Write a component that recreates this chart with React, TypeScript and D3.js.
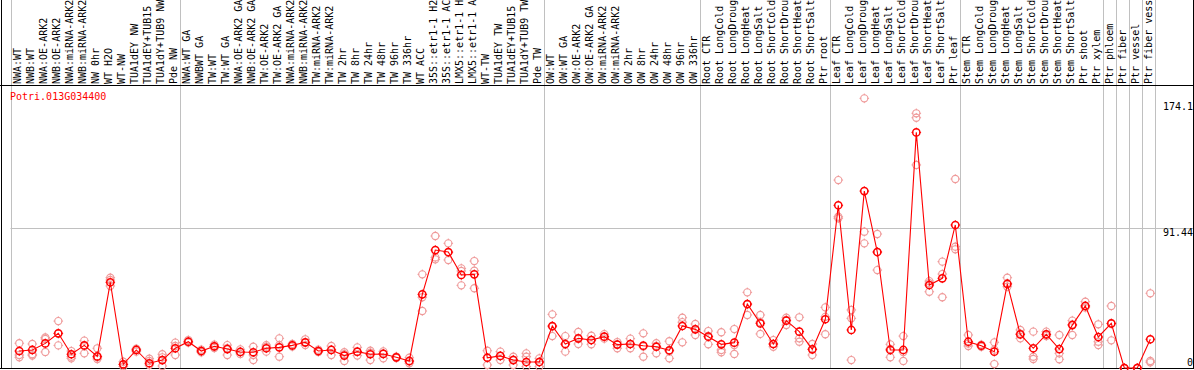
import React from "react";
import * as d3 from "d3";

const title = "Potri.013G034400";

const categories: string[] = [
  "NWA:WT", "NWB:WT", "NWA:OE-ARK2", "NWB:OE-ARK2", "NWA:miRNA-ARK2", "NWB:miRNA-ARK2", "NW 0hr", "WT H2O", "WT-NW", "TUA1dEY NW", "TUA1dEY+TUB15", "TUA1dY+TUB9 NW", "Pde NW",
  "NWA:WT GA", "NWBWT GA", "TW:WT", "TW:WT GA", "NWA:OE-ARK2 GA", "NWB:OE-ARK2 GA", "TW:OE-ARK2", "TW:OE-ARK2 GA", "NWA:miRNA-ARK2", "NWB:miRNA-ARK2", "TW:miRNA-ARK2", "TW:miRNA-ARK2", "TW 2hr", "TW 8hr", "TW 24hr", "TW 48hr", "TW 96hr", "TW 336hr", "WT ACC", "35S::etr1-1 H2", "35S::etr1-1 AC", "LMX5::etr1-1 H", "LMX5::etr1-1 A", "WT-TW", "TUA1dEY TW", "TUA1dEY+TUB15", "TUA1dY+TUB9 TW", "Pde TW",
  "OW:WT", "OW:WT GA", "OW:OE-ARK2", "OW:OE-ARK2 GA", "OW:miRNA-ARK2", "OW:miRNA-ARK2", "OW 2hr", "OW 8hr", "OW 24hr", "OW 48hr", "OW 96hr", "OW 336hr",
  "Root CTR", "Root LongCold", "Root LongDroug", "Root LongHeat", "Root LongSalt", "Root ShortCold", "Root ShortDrou", "Root ShortHeat", "Root ShortSalt", "Ptr root",
  "Leaf CTR", "Leaf LongCold", "Leaf LongDroug", "Leaf LongHeat", "Leaf LongSalt", "Leaf ShortCold", "Leaf ShortDrou", "Leaf ShortHeat", "Leaf ShortSalt", "Ptr leaf",
  "Stem CTR", "Stem LongCold", "Stem LongDroug", "Stem LongHeat", "Stem LongSalt", "Stem ShortCold", "Stem ShortDrou", "Stem ShortHeat", "Stem ShortSalt", "Ptr shoot", "Ptr xylem",
  "Ptr phloem", "Ptr fiber", "Ptr vessel", "Ptr fiber vess",
];

const groupSizes: number[] = [13, 28, 12, 10, 10, 11, 1, 1, 1, 1];

const means: number[] = [
  11.1, 11.8, 16.1, 22.7, 9.0, 14.8, 7.6, 56.1, 2.4, 11.8, 3.1, 5.2, 12.9,
  17.2, 11.1, 14.2, 12.4, 10.5, 10.3, 12.9, 13.5, 14.8, 16.8, 11.1, 11.8, 8.1, 10.7, 9.0, 9.2, 7.0, 4.6, 48.2, 77.2, 75.9, 60.9, 61.3, 6.7, 7.9, 5.2, 3.9, 3.9,
  27.5, 15.7, 19.4, 18.3, 20.5, 15.3, 15.7, 14.6, 13.9, 11.6, 27.5, 25.3,
  20.5, 15.5, 16.6, 41.9, 29.2, 15.7, 31.0, 23.8, 12.2, 31.9,
  106.5, 24.9, 115.8, 75.9, 11.8, 11.8, 154.2, 54.3, 58.7, 93.6,
  17.2, 14.6, 10.7, 55.0, 22.0, 12.9, 22.0, 12.4, 28.1, 40.6, 20.3,
  29.2, 0, 0, 18.8,
];

const rep1: number[] = [
  16.2, 15.7, 20.0, 30.7, 11.1, 17.9, 12.9, 59.1, 4.1, 12.6, 6.1, 9.0, 16.6,
  18.3, 12.0, 15.3, 15.0, 12.2, 13.9, 15.0, 15.0, 15.7, 18.8, 12.0, 14.4, 10.3, 13.5, 11.3, 10.9, 7.5, 6.7, 61.3, 86.4, 81.6, 65.2, 70.0, 11.3, 10.7, 7.4, 9.6, 6.3,
  35.1, 20.9, 23.6, 21.1, 22.2, 17.0, 19.2, 22.7, 16.2, 17.5, 32.9, 28.8,
  24.2, 23.4, 25.5, 49.5, 34.7, 18.3, 32.9, 33.2, 15.7, 39.7,
  123.0, 38.0, 176.5, 87.7, 15.5, 20.9, 166.7, 56.9, 69.6, 123.7,
  21.6, 15.3, 16.8, 59.1, 24.9, 23.8, 23.8, 21.6, 31.0, 43.4, 28.6,
  40.6, 0, 0, 48.9,
];

const rep2: number[] = [
  8.5, 9.0, 19.0, 14.8, 7.4, 9.6, 5.9, 53.7, 0.9, 10.7, 2.0, 1.3, 8.5,
  16.6, 10.2, 13.1, 8.5, 9.2, 8.5, 10.7, 19.4, 14.0, 15.0, 10.5, 8.5, 4.6, 8.1, 5.2, 6.3, 6.5, 3.1, 37.3, 72.4, 70.7, 63.5, 63.7, 2.0, 5.2, 2.0, 7.4, 0.9,
  20.9, 10.7, 15.7, 15.5, 19.2, 12.9, 12.9, 7.4, 9.6, 6.3, 16.8, 21.6,
  15.5, 11.8, 9.2, 34.7, 22.3, 13.9, 28.1, 19.4, 8.5, 22.1,
  99.0, 32.5, 89.2, 64.1, 7.0, 4.6, 163.8, 49.9, 61.5, 79.4,
  14.4, 13.9, 2.6, 53.2, 19.4, 7.4, 20.9, 9.6, 21.6, 39.5, 17.2,
  18.1, 0, 0, 4.6,
];

const rep3: number[] = [
  7.0, 8.1, 10.5, 22.5, 6.3, 14.4, 7.0, 57.6, 2.2, 11.8, 4.6, 7.0, 14.4,
  17.0, 11.1, 14.0, 13.0, 10.5, 5.2, 13.9, 7.4, 14.8, 16.5, 11.0, 12.0, 9.0, 10.5, 10.0, 9.5, 7.0, 4.2, 46.3, 71.1, 75.5, 54.1, 52.2, 6.8, 7.9, 5.5, 0.9, 4.0,
  27.0, 15.5, 19.0, 18.3, 20.5, 15.5, 15.7, 14.0, 14.5, 11.0, 30.0, 25.5,
  21.0, 10.3, 15.0, 41.5, 30.0, 15.7, 31.5, 17.2, 12.3, 33.5,
  98.0, 5.2, 81.6, 76.0, 12.5, 10.5, 132.9, 55.5, 46.3, 77.7,
  16.0, 14.6, 12.0, 55.5, 22.5, 5.9, 22.0, 5.7, 28.5, 40.6, 15.0,
  29.0, 0, 0, 3.7,
];

const yTicks: number[] = [0, 91.44, 174.1];
const gridTicks: number[] = [91.44];

const W = 1194;
const H = 370;
const plotLeft = 10.5;
const colW = 13;
const headerY = 85.5;
const bottomY = 368.5;
const rightX = 1193.5;
const FONT = "'DejaVu Sans Mono', 'Liberation Mono', monospace";

function Marker({ x, y, color, sw }: { x: number; y: number; color: string; sw: number }) {
  const r = 3.6;
  const t = 4.8;
  return (
    <g>
      <circle cx={x} cy={y} r={r} fill="none" stroke={color} strokeWidth={sw} />
      <path
        d={`M${x},${y - t}V${y - r + 0.5}M${x},${y + r - 0.5}V${y + t}M${x - t},${y}H${x - r + 0.5}M${x + r - 0.5},${y}H${x + t}`}
        stroke={color}
        strokeWidth={1}
      />
    </g>
  );
}

export default function App() {
  const n = categories.length;
  const xBand = d3
    .scaleBand<number>()
    .domain(d3.range(n))
    .range([plotLeft, plotLeft + colW * n])
    .paddingInner(0)
    .paddingOuter(0);
  const px = (i: number) => (xBand(i) as number) + 8.8;
  const y = d3.scaleLinear().domain([0, 174.1]).range([368, 102]);

  const boundaries: number[] = [0];
  groupSizes.forEach((s) => boundaries.push(boundaries[boundaries.length - 1] + s));

  const line = d3
    .line<number>()
    .x((_, i) => px(i))
    .y((d) => y(d));

  const reps = [rep1, rep2, rep3];

  return (
    <svg
      width={W}
      height={H}
      style={{ position: "absolute", left: 0, top: 0, background: "#fff" }}
      fontFamily={FONT}
    >
      <rect x={0} y={0} width={W} height={H} fill="#fff" />
      {boundaries.map((b, k) => (
        <line
          key={"b" + k}
          x1={Math.round(plotLeft + colW * b) + 0.5}
          x2={Math.round(plotLeft + colW * b) + 0.5}
          y1={0}
          y2={bottomY}
          stroke="#c0c0c0"
          strokeWidth={1}
        />
      ))}
      {gridTicks.map((t) => (
        <line
          key={"g" + t}
          x1={plotLeft}
          x2={rightX}
          y1={Math.round(y(t)) + 0.5}
          y2={Math.round(y(t)) + 0.5}
          stroke="#c0c0c0"
          strokeWidth={1}
        />
      ))}
      {categories.map((c, i) => (
        <text
          key={"c" + i}
          transform={`translate(${(xBand(i) as number) + 10.5},84) rotate(-90)`}
          fontSize={10}
          fill="#000"
        >
          {c}
        </text>
      ))}
      <line x1={0} x2={W} y1={headerY} y2={headerY} stroke="#000" strokeWidth={1} />
      <line x1={0} x2={W} y1={bottomY} y2={bottomY} stroke="#000" strokeWidth={1} />
      <line x1={1.5} x2={1.5} y1={0} y2={bottomY} stroke="#000" strokeWidth={1} />
      <line x1={rightX} x2={rightX} y1={0} y2={bottomY} stroke="#000" strokeWidth={1} />
      <text x={10} y={100} fontSize={10} fill="#ff0000">
        {title}
      </text>
      {yTicks.map((t) => (
        <text
          key={"y" + t}
          x={1193}
          y={t === 0 ? 365.5 : y(t) + 8}
          fontSize={10}
          textAnchor="end"
          fill="#000"
        >
          {String(t)}
        </text>
      ))}
      {reps.map((arr, k) =>
        arr.map((v, i) => (
          <Marker key={`r${k}-${i}`} x={px(i)} y={y(v)} color="#ef9a9a" sw={1.1} />
        ))
      )}
      <path d={line(means) || ""} fill="none" stroke="#ff0000" strokeWidth={1.1} />
      {means.map((v, i) => (
        <Marker key={"m" + i} x={px(i)} y={y(v)} color="#ff0000" sw={1.5} />
      ))}
    </svg>
  );
}
